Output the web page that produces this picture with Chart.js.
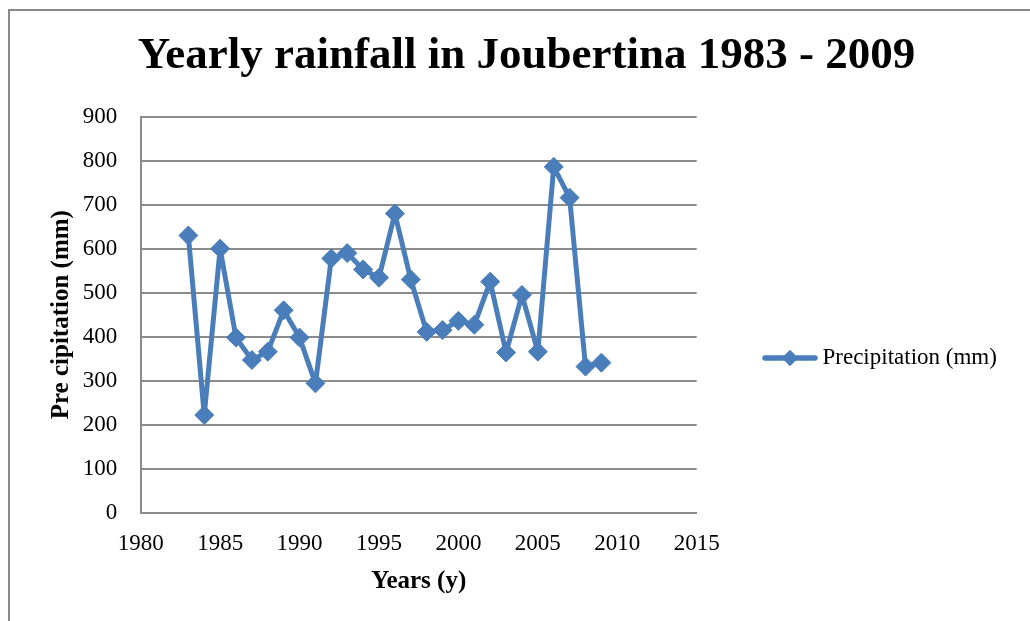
<!DOCTYPE html>
<html>
<head>
<meta charset="utf-8">
<script src="https://cdn.jsdelivr.net/npm/chart.js@4.4.1/dist/chart.umd.min.js"></script>
<style>
  html, body { margin: 0; padding: 0; background: #ffffff; }
  #wrap { position: relative; width: 1030px; height: 621px; overflow: hidden; }
  #frame { position: absolute; left: 8px; top: 9px; width: 1100px; height: 700px;
           border-left: 2px solid #8a8a8a; border-top: 2px solid #8a8a8a; }
  #chart { position: absolute; left: 0; top: 0; }
</style>
</head>
<body>
<div id="wrap">
  <div id="frame"></div>
  <canvas id="chart" width="1030" height="621"></canvas>
</div>
<script>
// Annual rainfall records
const years = [1983, 1984, 1985, 1986, 1987, 1988, 1989, 1990, 1991, 1992, 1993, 1994, 1995, 1996,
               1997, 1998, 1999, 2000, 2001, 2002, 2003, 2004, 2005, 2006, 2007, 2008, 2009];
const rainfallMm = [630, 222, 600, 398, 347, 366, 460, 398, 294, 578, 590, 553, 534, 680,
                    530, 411, 415, 436, 427, 525, 364, 495, 366, 786, 716, 332, 341];

const chartTitle = 'Yearly rainfall in Joubertina 1983 - 2009';
const seriesName = 'Precipitation (mm)';
const xAxisTitle = 'Years (y)';
const yAxisTitle = 'Pre cipitation (mm)';

const xMin = 1980, xMax = 2015, xStep = 5;
const yMin = 0, yMax = 900, yStep = 100;

const BLUE = '#4a7ebb';
const GRID = '#8c8c8c';
const SERIF = '"Liberation Serif", "Times New Roman", serif';
const TICK_SIZE = 23;

// Plot area geometry
const AREA_LEFT = 140.7, AREA_RIGHT = 696.7, AREA_TOP = 116.7, AREA_BOTTOM = 512.7;
const CANVAS_W = 1030, CANVAS_H = 621;

// Legend swatch: a short line with a diamond marker
const SWATCH_W = 56, SWATCH_H = 20, SWATCH_OVERHANG = 7;
function makeSwatch() {
  const c = document.createElement('canvas');
  c.width = SWATCH_W; c.height = SWATCH_H;
  const g = c.getContext('2d');
  g.strokeStyle = BLUE; g.lineWidth = 5.5; g.lineCap = 'round';
  g.beginPath(); g.moveTo(3, SWATCH_H / 2); g.lineTo(SWATCH_W - 3, SWATCH_H / 2); g.stroke();
  g.fillStyle = BLUE;
  const cx = SWATCH_W / 2, cy = SWATCH_H / 2, r = 8.3;
  g.beginPath(); g.moveTo(cx, cy - r); g.lineTo(cx + r, cy); g.lineTo(cx, cy + r); g.lineTo(cx - r, cy); g.closePath(); g.fill();
  return c;
}
const swatch = makeSwatch();
const boxW = SWATCH_W - 2 * SWATCH_OVERHANG;

// Work out paddings so the legend sits right of the plot
const meas = document.createElement('canvas').getContext('2d');
meas.font = TICK_SIZE + 'px ' + SERIF;
const textW = meas.measureText(seriesName).width;
const legendItemX = 762 + SWATCH_OVERHANG;
const legendPad = legendItemX - AREA_RIGHT;
const itemW = boxW + TICK_SIZE / 2 + textW;
const legendW = legendPad + itemW + 10;
const padRight = Math.max(0, CANVAS_W - AREA_RIGHT - legendW);
const padLeft = padRight + 23;

const points = years.map((yr, i) => ({ x: yr, y: rainfallMm[i] }));

new Chart(document.getElementById('chart'), {
  type: 'line',
  data: {
    datasets: [{
      label: seriesName,
      data: points,
      borderColor: BLUE,
      backgroundColor: BLUE,
      borderWidth: 5,
      borderJoinStyle: 'round',
      borderCapStyle: 'round',
      pointStyle: 'rectRot',
      pointRadius: 9.5,
      pointBackgroundColor: BLUE,
      pointBorderColor: BLUE,
      pointBorderWidth: 1,
      tension: 0,
      fill: false
    }]
  },
  options: {
    responsive: false,
    animation: false,
    events: [],
    layout: { padding: { left: padLeft, right: padRight, top: 0, bottom: 0 } },
    plugins: {
      tooltip: { enabled: false },
      title: {
        display: true,
        text: chartTitle,
        color: '#000',
        font: { family: SERIF, size: 45, weight: 'bold', lineHeight: 1.2 },
        padding: { top: 29, bottom: AREA_TOP - 29 - 54 }
      },
      legend: {
        position: 'right',
        maxWidth: legendW + 20,
        title: { display: true, text: '', padding: { top: 80.6, bottom: 0 }, font: { size: 12, lineHeight: 1.2 } },
        labels: {
          usePointStyle: true,
          pointStyleWidth: boxW,
          padding: legendPad,
          color: '#000',
          font: { family: SERIF, size: TICK_SIZE },
          generateLabels: (chart) => chart.data.datasets.map((ds, i) => ({
            text: ds.label,
            pointStyle: swatch,
            fillStyle: BLUE,
            strokeStyle: BLUE,
            lineWidth: 0,
            hidden: false,
            datasetIndex: i,
            fontColor: '#000'
          }))
        }
      }
    },
    scales: {
      x: {
        type: 'linear',
        min: xMin, max: xMax,
        ticks: { stepSize: xStep, padding: 17.5, color: '#000',
                 font: { family: SERIF, size: TICK_SIZE },
                 callback: (v) => String(v) },
        grid: { display: true, drawOnChartArea: false, drawTicks: false },
        border: { display: true, color: GRID, width: 2 },
        title: { display: true, text: xAxisTitle, color: '#000',
                 font: { family: SERIF, size: 25, weight: 'bold', lineHeight: 1.2 },
                 padding: { top: 0, bottom: 24 } },
        afterFit: (scale) => { scale.height = CANVAS_H - AREA_BOTTOM; }
      },
      y: {
        min: yMin, max: yMax,
        ticks: { stepSize: yStep, padding: 23.5, color: '#000',
                 font: { family: SERIF, size: TICK_SIZE } },
        grid: { color: GRID, lineWidth: 2, drawTicks: false },
        border: { display: true, color: GRID, width: 2 },
        title: { display: true, text: yAxisTitle, color: '#000',
                 font: { family: SERIF, size: 25, weight: 'bold', lineHeight: 1.2 },
                 padding: { top: Math.max(0, 59 - 15 - padLeft), bottom: 0 } },
        afterFit: (scale) => { scale.width = AREA_LEFT - padLeft; }
      }
    }
  }
});
</script>
</body>
</html>
